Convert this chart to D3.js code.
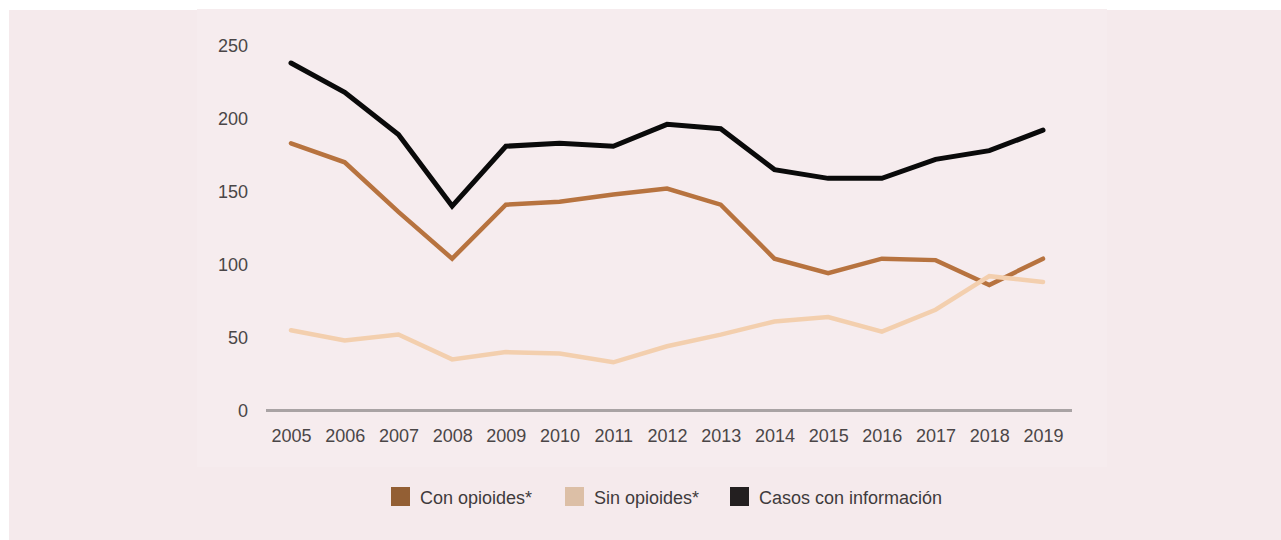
<!DOCTYPE html>
<html>
<head>
<meta charset="utf-8">
<script src="https://cdn.jsdelivr.net/npm/d3@7"></script>
<style>
  html, body { margin: 0; padding: 0; background: #ffffff; }
  svg { display: block; }
  text { font-family: "Liberation Sans", Arial, Helvetica, sans-serif; }
</style>
</head>
<body>
<svg id="chart" width="1281" height="540"></svg>
<script>
// Years on the x axis
const years = [2005, 2006, 2007, 2008, 2009, 2010, 2011, 2012, 2013, 2014, 2015, 2016, 2017, 2018, 2019];

// Series values per year
const conOpioides = [183, 170, 136, 104, 141, 143, 148, 152, 141, 104, 94, 104, 103, 86, 104];
const sinOpioides = [55, 48, 52, 35, 40, 39, 33, 44, 52, 61, 64, 54, 69, 92, 88];
const casosConInformacion = [238, 218, 189, 140, 181, 183, 181, 196, 193, 165, 159, 159, 172, 178, 192];

// Y axis tick values
const yTicks = [0, 50, 100, 150, 200, 250];

// Legend labels
const legendLabels = ["Con opioides*", "Sin opioides*", "Casos con información"];

const svg = d3.select("#chart");

// Backgrounds
svg.append("rect").attr("x", 9).attr("y", 10).attr("width", 1272).attr("height", 530).attr("fill", "#f5eaec");
svg.append("rect").attr("x", 197).attr("y", 9).attr("width", 910).attr("height", 458).attr("fill", "#f6ecee");

const x = d3.scalePoint().domain(years).range([291, 1043]);
const y = d3.scaleLinear().domain([0, 250]).range([410.5, 45.5]);

// Y tick labels (no axis line)
const yAxis = d3.axisLeft(y).tickValues(yTicks).tickSize(0).tickPadding(0);
const gy = svg.append("g").attr("transform", "translate(248,0)").call(yAxis);
gy.select(".domain").remove();
gy.selectAll("text")
  .attr("font-family", "Liberation Sans, Arial, sans-serif")
  .attr("font-size", 18)
  .attr("fill", "#4a4647")
  .attr("dy", "0.35em");

// Baseline
svg.append("line")
  .attr("x1", 266).attr("x2", 1072)
  .attr("y1", y(0)).attr("y2", y(0))
  .attr("stroke", "#a9a3a4").attr("stroke-width", 3);

// X tick labels
const xAxis = d3.axisBottom(x).tickSize(0).tickPadding(0);
const gx = svg.append("g").attr("transform", "translate(0,429)").call(xAxis);
gx.select(".domain").remove();
gx.selectAll("text")
  .attr("font-family", "Liberation Sans, Arial, sans-serif")
  .attr("font-size", 18)
  .attr("fill", "#4a4647")
  .attr("dy", "0.71em");

const line = d3.line().x((d, i) => x(years[i])).y(d => y(d));

const series = [
  { values: conOpioides, color: "#b7733f", width: 4.5 },
  { values: sinOpioides, color: "#f3cfae", width: 4.5 },
  { values: casosConInformacion, color: "#0a0a0a", width: 5 }
];

series.forEach(s => {
  svg.append("path")
    .datum(s.values)
    .attr("d", line)
    .attr("fill", "none")
    .attr("stroke", s.color)
    .attr("stroke-width", s.width)
    .attr("stroke-linejoin", "miter")
    .attr("stroke-linecap", "round");
});

// Legend
const legendColors = ["#935f34", "#dcbfa6", "#231f20"];
const legendX = [391, 565, 730];
legendLabels.forEach((lab, i) => {
  const g = svg.append("g").attr("transform", `translate(${legendX[i]},487)`);
  g.append("rect").attr("width", 19).attr("height", 19).attr("fill", legendColors[i]);
  g.append("text")
    .attr("x", 29).attr("y", 17)
    .attr("font-size", 18)
    .attr("fill", "#3f3b3c")
    .text(lab);
});
</script>
</body>
</html>
